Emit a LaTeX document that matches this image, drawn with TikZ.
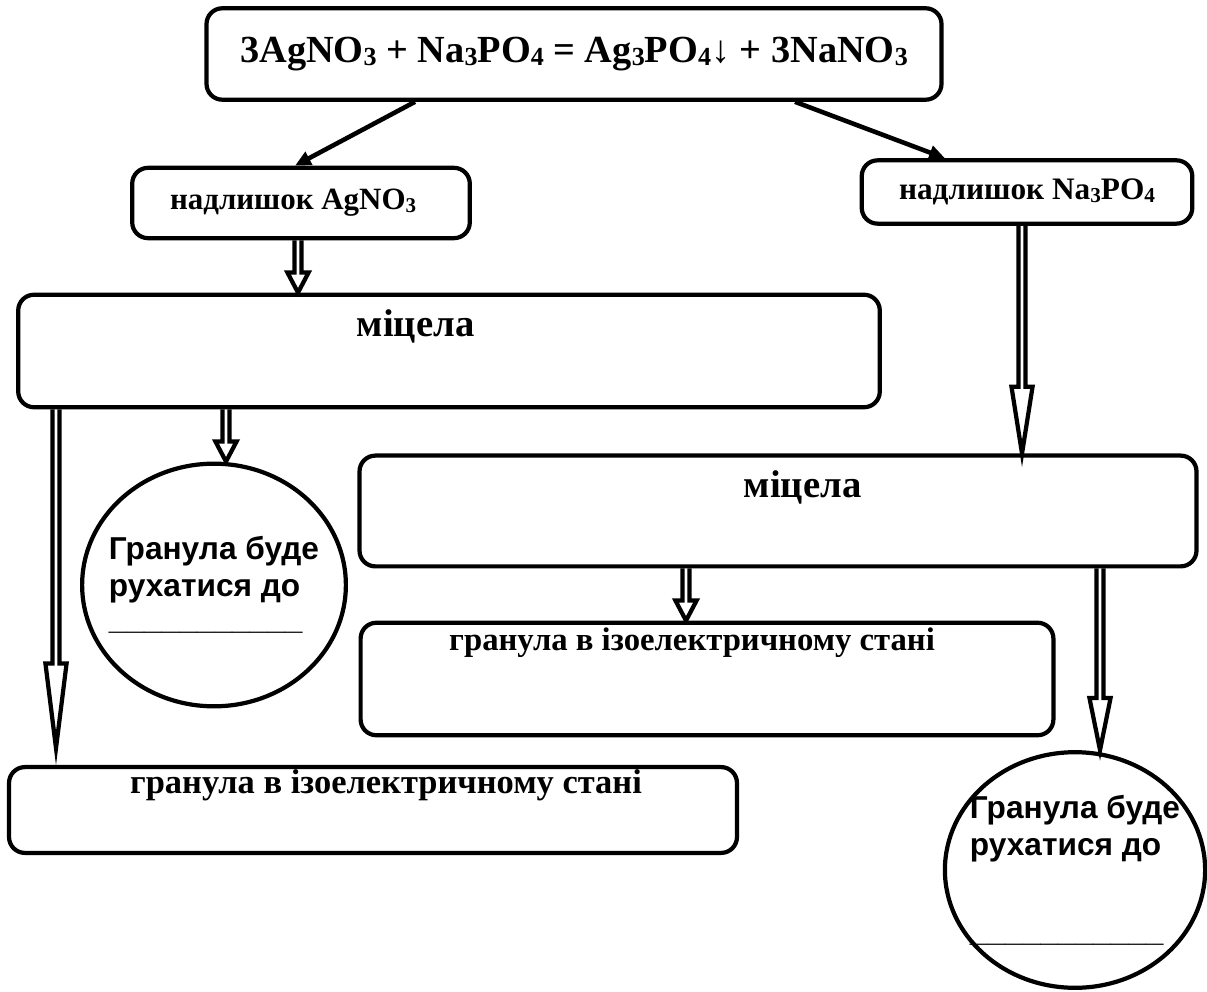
\documentclass[tikz,border=0pt]{standalone}
\usepackage{fontspec}
\setmainfont{Liberation Serif}
\setsansfont{Liberation Sans}
\usetikzlibrary{calc,shapes.geometric,arrows.meta}
\newcommand\ix[1]{\raisebox{-0.2ex}{\scalebox{0.68}{#1}}}

\begin{document}
\begin{tikzpicture}[x=0.01cm,y=-0.01cm,
    box/.style={draw,line width=1.2pt,rounded corners=4.5pt,inner sep=0pt},
    ball/.style={draw,ellipse,line width=1.2pt,inner xsep=-4pt,inner ysep=0pt,align=left,
      font=\sffamily\bfseries\fontsize{9}{10.5}\selectfont},
    lead/.style={line width=1.3pt,-{Triangle[length=4.5pt,width=4pt]}},
    hollow/.style={line width=1.2pt,to path={let \p1=(\tikztostart),\p2=(\tikztotarget) in
      ({\x1-1pt},\y1) -- ({\x1-1pt},{\y2+#1}) -- ({\x1-3pt},{\y2+#1}) -- (\x1,\y2)
      -- ({\x1+3pt},{\y2+#1}) -- ({\x1+1pt},{\y2+#1}) -- ({\x1+1pt},\y1)}}]
    \useasboundingbox (0,0) rectangle (1207,992);

    % reaction
    \node[box,minimum width=209pt,minimum height=26pt,font=\bfseries\fontsize{10.9}{13}\selectfont] (eq) at (574,54)
      {3AgNO\ix{3} + Na\ix{3}PO\ix{4} = Ag\ix{3}PO\ix{4}↓ + 3NaNO\ix{3}};
    \node[box,minimum width=96pt,minimum height=20pt,font=\bfseries\fontsize{8.8}{11}\selectfont] (agx) at (301,203)
      {надлишок AgNO\ix{3}\hspace*{4.5pt}};
    \node[box,minimum width=94pt,minimum height=18pt,font=\bfseries\fontsize{8.9}{11}\selectfont] (nax) at (1027,192)
      {надлишок Na\ix{3}PO\ix{4}};

    % micelles
    \node[box,minimum width=245pt,text height=12pt,text depth=20pt,font=\bfseries\fontsize{11}{13}\selectfont] (mic1) at (449,351)
      {міцела\hspace*{19pt}};
    \node[box,minimum width=238pt,text height=12pt,text depth=19.5pt,font=\bfseries\fontsize{11}{13}\selectfont] (mic2) at (778,511)
      {\hspace*{14pt}міцела};

    % granules
    \node[box,minimum width=197pt,text height=8pt,text depth=24pt,font=\bfseries\fontsize{9.3}{12}\selectfont] (gr2) at (707,679)
      {гранула в ізоелектричному стані\hspace*{8.5pt}};
    \node[box,minimum width=207pt,text height=7.4pt,text depth=17pt,font=\bfseries\fontsize{9.8}{12}\selectfont] (gr1) at (373,810)
      {\hspace*{7.4pt}гранула в ізоелектричному стані};
    \node[ball,minimum width=75pt,minimum height=69pt] (c1) at (214,585)
      {Гранула буде\\рухатися до\\[-1pt]\_\_\_\_\_\_\_\_\_\_\_};
    \node[ball,minimum width=74pt,minimum height=67pt] (c2) at (1075,870)
      {Гранула буде\\рухатися до\\[14pt]\_\_\_\_\_\_\_\_\_\_\_};

    \draw[lead] (415,0 |- eq.south) -- (295,0 |- agx.north);
    \draw[lead] (795,0 |- eq.south) -- (945,0 |- nax.north);

    \draw[hollow=5.7pt] (298,0 |- agx.south) to (298,0 |- mic1.north);
    \draw[hollow=19pt] (1022,0 |- nax.south) to (1022,0 |- mic2.north);
    \coordinate (drop) at (56,748);
    \draw[hollow=24pt] (56,0 |- mic1.south) to (drop);
    \draw[hollow=5.7pt] (226,0 |- mic1.south) to (226,0 |- c1.north);
    \draw[hollow=5.7pt] (686,0 |- mic2.south) to (686,0 |- gr2.north);
    \draw[hollow=14.8pt] (1100,0 |- mic2.south) to (1100,0 |- c2.north);
\end{tikzpicture}
\end{document}
